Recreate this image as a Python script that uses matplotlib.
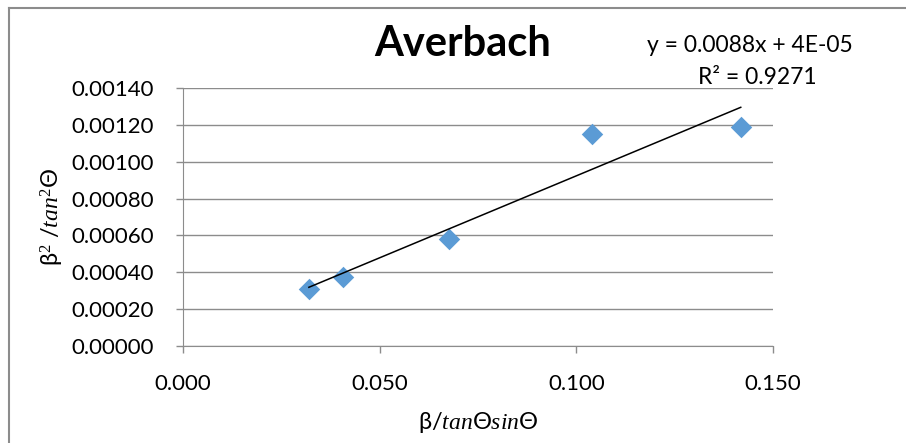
import numpy as np
import matplotlib.pyplot as plt
from matplotlib.lines import Line2D

plt.rcParams['font.family'] = ['Lato', 'DejaVu Sans']
plt.rcParams['mathtext.fontset'] = 'custom'
plt.rcParams['mathtext.it'] = 'Liberation Serif:italic'
plt.rcParams['mathtext.rm'] = 'Liberation Serif'

# beta / (tan theta * sin theta) vs beta^2 / tan^2 theta
x_vals = [0.0320, 0.0407, 0.0676, 0.1039, 0.1418]
y_vals = [0.000307, 0.000376, 0.000582, 0.001149, 0.001189]

x_ticks = [0.000, 0.050, 0.100, 0.150]
y_ticks = [0.0, 0.0002, 0.0004, 0.0006, 0.0008, 0.0010, 0.0012, 0.0014]

fig = plt.figure(figsize=(9.06, 4.43), dpi=100)
W, H = 906, 443
ax = fig.add_axes([183 / W, 1 - 346 / H, (773 - 183) / W, (346 - 88) / H])

# chart frame (left and top edges)
fig.add_artist(Line2D([9 / W, 9 / W], [0, 1 - 8 / H], transform=fig.transFigure,
                      color='#8c8c8c', linewidth=1.5))
fig.add_artist(Line2D([9 / W, 1], [1 - 8 / H, 1 - 8 / H], transform=fig.transFigure,
                      color='#8c8c8c', linewidth=1.5))

ax.scatter(x_vals, y_vals, marker='D', s=120, color='#5b9bd5', zorder=3, linewidths=0)

slope, intercept = np.polyfit(x_vals, y_vals, 1)
xs = np.array([min(x_vals), max(x_vals)])
ax.plot(xs, slope * xs + intercept, color='black', linewidth=1.1, zorder=4)

ax.set_xlim(0, 0.150)
ax.set_ylim(0, 0.0014)
ax.set_xticks(x_ticks)
ax.set_yticks(y_ticks)
ax.set_xticklabels([f'{v:.3f}' for v in x_ticks])
ax.set_yticklabels([f'{v:.5f}' for v in y_ticks])
ax.tick_params(labelsize=16, length=5, direction='out', color='#8c8c8c', width=1)
ax.tick_params(axis='y', pad=16)
ax.tick_params(axis='x', pad=15)

ax.grid(axis='y', color='#8c8c8c', linewidth=1)
ax.set_axisbelow(True)
for side in ['top', 'right']:
    ax.spines[side].set_visible(False)
ax.spines['bottom'].set_color('#8c8c8c')
ax.spines['left'].set_color('#8c8c8c')

ax.set_xlabel(r'β/$tan$Θ$sin$Θ', fontsize=17, labelpad=12)
ax.set_ylabel(r'β$^2$ /$tan^2$Θ', fontsize=17, labelpad=4)

fig.text(463 / W, 1 - 44 / H, 'Averbach', fontsize=30, fontweight='bold',
         ha='center', va='center')
fig.text(750 / W, 1 - 45 / H, 'y = 0.0088x + 4E-05', fontsize=16.5, ha='center', va='center')
fig.text(757 / W, 1 - 77 / H, 'R² = 0.9271', fontsize=16.5, ha='center', va='center')

fig.savefig('out.png', dpi=100)
